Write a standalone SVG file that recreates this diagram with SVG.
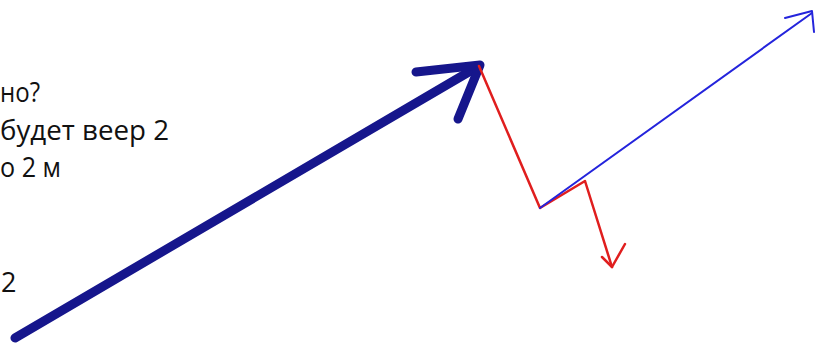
<svg xmlns="http://www.w3.org/2000/svg" width="815" height="346" viewBox="0 0 815 346">
<style>
.t{font-family:"Open Sans","Liberation Sans",sans-serif;font-size:27px;fill:#111}
.navy{fill:none;stroke:#16168c;stroke-width:9;stroke-linecap:round;stroke-linejoin:round}
.red{fill:none;stroke:#e01e1e;stroke-width:2.5;stroke-linecap:round;stroke-linejoin:round}
.blue{fill:none;stroke:#2424dc;stroke-width:2;stroke-linecap:round;stroke-linejoin:round}
</style>
<rect width="815" height="346" fill="#fff"/>
<g id="text">
<text class="t" x="0" y="102" textLength="40" lengthAdjust="spacingAndGlyphs">но?</text>
<text class="t" x="0" y="140" textLength="169" lengthAdjust="spacingAndGlyphs">будет веер 2</text>
<text class="t" x="0" y="177" textLength="61" lengthAdjust="spacingAndGlyphs">о 2 м</text>
<text class="t" x="1" y="292">2</text>
</g>
<g id="connectors">
<g id="navy-arrow">
<path class="navy" d="M15,338 L479,66"/>
<path class="navy" d="M416,72 L480,65 L458,119"/>
</g>
<g id="red-path">
<path class="red" d="M479,66 L540,208 L585,181 L612,267"/>
<path class="red" d="M602,257 L612,267 L625,244"/>
</g>
<g id="blue-arrow">
<path class="blue" d="M540,208 L812,13"/>
<path class="blue" d="M785,18 L812,11 L814,32"/>
</g>
</g>
</svg>
